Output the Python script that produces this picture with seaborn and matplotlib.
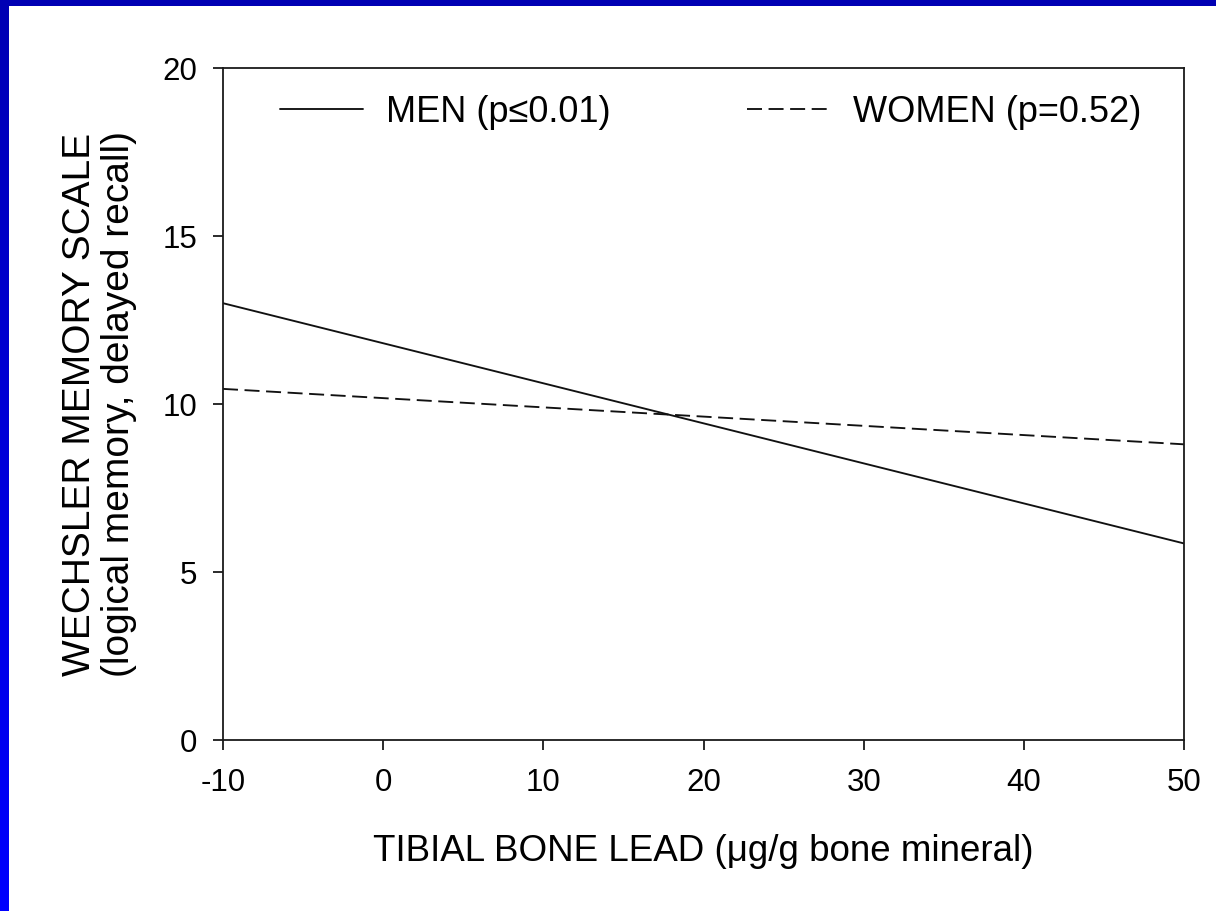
import matplotlib
matplotlib.use('Agg')
import matplotlib.pyplot as plt
from matplotlib.patches import Rectangle
from matplotlib.colors import LinearSegmentedColormap
import seaborn as sns
import pandas as pd
import numpy as np

# ---- data ----
lead = [-10, 50]
men = [13.0, 5.85]
women = [10.45, 8.8]
group_labels = ['MEN (p\u22640.01)', 'WOMEN (p=0.52)']
x_ticks = [-10, 0, 10, 20, 30, 40, 50]
y_ticks = [0, 5, 10, 15, 20]
x_label = 'TIBIAL BONE LEAD (\u03bcg/g bone mineral)'
y_label = 'WECHSLER MEMORY SCALE\n(logical memory, delayed recall)'

sns.set_theme(style='white')
plt.rcParams['font.family'] = ['Liberation Sans', 'DejaVu Sans']
plt.rcParams['text.color'] = 'black'
plt.rcParams['axes.labelcolor'] = 'black'
plt.rcParams['xtick.color'] = 'black'
plt.rcParams['ytick.color'] = 'black'

W, H = 1216, 911
fig = plt.figure(figsize=(W / 100, H / 100), dpi=100)
fig.patch.set_facecolor('white')

ax = fig.add_axes([223 / W, 1 - 740 / H, (1184 - 223) / W, (740 - 68) / H])

df = pd.DataFrame({
    'lead': lead + lead,
    'score': men + women,
    'group': [group_labels[0]] * len(lead) + [group_labels[1]] * len(lead),
})

sns.lineplot(data=df, x='lead', y='score', hue='group', style='group',
             palette=['#111111', '#111111'],
             dashes={group_labels[0]: '', group_labels[1]: (8, 3.5)},
             linewidth=1.35, ax=ax, legend=True)

ax.set_xlim(-10, 50)
ax.set_ylim(0, 20)
ax.set_xticks(x_ticks)
ax.set_yticks(y_ticks)
ax.set_xticklabels([str(t) for t in x_ticks])
ax.set_yticklabels([str(t) for t in y_ticks])

for s in ax.spines.values():
    s.set_visible(True)
    s.set_color('#1a1a1a')
    s.set_linewidth(1.3)

ax.tick_params(axis='both', which='both', direction='out', length=7.2, width=1.3,
               color='#1a1a1a', labelcolor='black', labelsize=22.5,
               top=False, right=False, bottom=True, left=True)
ax.tick_params(axis='x', pad=13)
ax.tick_params(axis='y', pad=11.5)

ax.set_xlabel(x_label, fontsize=26.5, color='black')
ax.xaxis.set_label_coords(0.5, -0.14)
ax.set_ylabel(y_label, fontsize=28, color='black', linespacing=1.1)
ax.yaxis.set_label_coords(-0.0895, 0.5)

handles, labels = ax.get_legend_handles_labels()
ax.legend(handles, labels, loc='center left', bbox_to_anchor=(0.0593, 0.9345),
          frameon=False, ncol=2, fontsize=26, handlelength=2.3,
          handletextpad=0.64, columnspacing=3.78, borderpad=0, borderaxespad=0,
          labelcolor='black')

# ---- blue slide border ----
fig.patches.append(Rectangle((0, 1 - 6 / H), 1, 6 / H, transform=fig.transFigure,
                             facecolor='#0000B4', edgecolor='none', zorder=10))
axb = fig.add_axes([0, 0, 9 / W, 1 - 6 / H])
cmap = LinearSegmentedColormap.from_list('bl', ['#0000B4', '#0000FF'])
axb.imshow(np.linspace(0, 1, 256).reshape(-1, 1), aspect='auto', cmap=cmap)
axb.axis('off')

fig.savefig('out.png', dpi=100)
